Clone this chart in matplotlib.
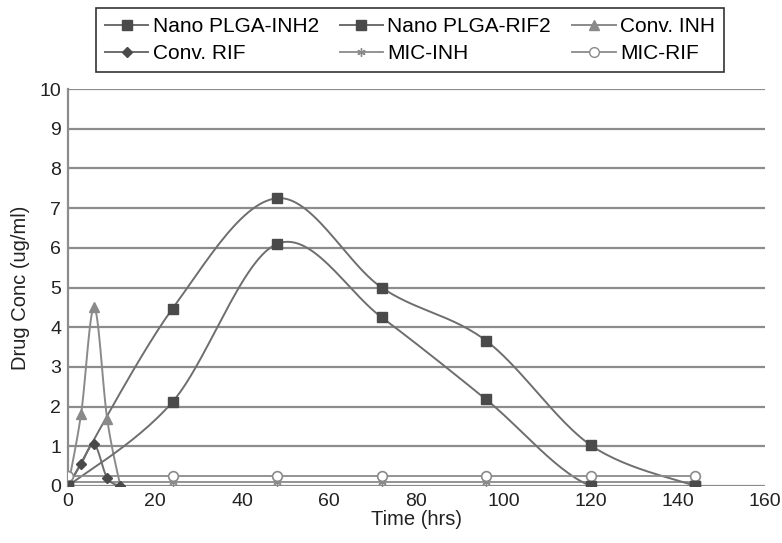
import numpy as np
import matplotlib
matplotlib.use("Agg")
import matplotlib.pyplot as plt
from matplotlib.lines import Line2D

plt.rcParams['font.family'] = ['Liberation Sans', 'DejaVu Sans']

# data
t_nano = [0, 24, 48, 72, 96, 120, 144]
nano_inh2 = [0, 4.47, 7.25, 5.0, 3.66, 1.03, 0]
nano_rif2 = [0, 2.12, 6.1, 4.25, 2.18, 0, 0]

t_conv = [0, 3, 6, 9, 12]
conv_inh = [0, 1.82, 4.5, 1.68, 0]
conv_rif = [0, 0.55, 1.05, 0.2, 0]

t_mic = [0, 24, 48, 72, 96, 120, 144]
mic_inh = [0.1] * 7
mic_rif = [0.25] * 7

labels = ['Nano PLGA-INH2', 'Nano PLGA-RIF2', 'Conv. INH',
          'Conv. RIF', 'MIC-INH', 'MIC-RIF']

# pixels per data unit, so the smoothing is done in screen space (like Excel)
SX, SY = 4.356, 39.7


def smooth(x, y, n=30):
    p = np.column_stack([np.asarray(x, float) * SX, np.asarray(y, float) * SY])
    p = np.vstack([p[0], p, p[-1]])
    out = []
    for i in range(1, len(p) - 2):
        p0, p1, p2, p3 = p[i - 1], p[i], p[i + 1], p[i + 2]
        c1 = p1 + (p2 - p0) / 6
        c2 = p2 - (p3 - p1) / 6
        s = np.linspace(0, 1, n)[:, None]
        seg = ((1 - s) ** 3) * p1 + 3 * ((1 - s) ** 2) * s * c1 + 3 * (1 - s) * s ** 2 * c2 + s ** 3 * p2
        out.append(seg)
    out = np.vstack(out)
    return out[:, 0] / SX, out[:, 1] / SY


fig = plt.figure(figsize=(7.82, 5.43), dpi=100)
ax = fig.add_axes([0.087, 0.105, 0.891, 0.731])

dark = '#4a4a4a'
line_c = '#6e6e6e'
light = '#8a8a8a'

for yy in range(0, 11):
    ax.axhline(yy, color='#8c8c8c', lw=1.6, zorder=1)

# MIC lines
ax.plot(t_mic, mic_inh, color=light, lw=1.3, marker=(6, 2, 0), ms=6, mec=light, zorder=2)
ax.plot(t_mic, mic_rif, color=light, lw=1.3, marker='o', ms=7, mfc='white', mec=light, mew=1.2, zorder=3)

# conventional
xs, ys = smooth(t_conv, conv_inh)
ax.plot(xs, ys, color=light, lw=1.4, zorder=2)
ax.plot(t_conv, conv_inh, ls='none', marker='^', ms=7, color=light, zorder=3)
xs, ys = smooth(t_conv, conv_rif)
ax.plot(xs, ys, color=line_c, lw=1.4, zorder=2)
ax.plot(t_conv, conv_rif, ls='none', marker='D', ms=5, color=dark, zorder=3)

# nano
for yv in (nano_inh2, nano_rif2):
    xs, ys = smooth(t_nano, yv)
    ax.plot(xs, ys, color=line_c, lw=1.4, zorder=2)
    ax.plot(t_nano, yv, ls='none', marker='s', ms=7.5, color=dark, zorder=4)

ax.set_xlim(0, 160)
ax.set_ylim(0, 10)
ax.set_xticks(range(0, 161, 20))
ax.set_yticks(range(0, 11))
for s in ['top', 'right', 'bottom']:
    ax.spines[s].set_visible(False)
ax.spines['left'].set_color('#8c8c8c')
ax.spines['left'].set_linewidth(1.6)
ax.tick_params(length=0, labelsize=14, colors='#222222', pad=5)
ax.set_xlabel('Time (hrs)', fontsize=14.5, color='#222222', labelpad=0)
ax.set_ylabel('Drug Conc (ug/ml)', fontsize=14.5, color='#222222', labelpad=7)

# legend, row-major like the original
h = [
    Line2D([], [], color=line_c, lw=1.4, marker='s', ms=7, mfc=dark, mec=dark),
    Line2D([], [], color=line_c, lw=1.4, marker='s', ms=7, mfc=dark, mec=dark),
    Line2D([], [], color=light, lw=1.4, marker='^', ms=7, mfc=light, mec=light),
    Line2D([], [], color=line_c, lw=1.4, marker='D', ms=5, mfc=dark, mec=dark),
    Line2D([], [], color=light, lw=1.3, marker=(6, 2, 0), ms=6, mec=light),
    Line2D([], [], color=light, lw=1.3, marker='o', ms=7, mfc='white', mec=light),
]
order = [0, 3, 1, 4, 2, 5]
leg = fig.legend([h[i] for i in order], [labels[i] for i in order], ncol=3,
                 loc='center', bbox_to_anchor=(0.524, 0.926), frameon=True,
                 fancybox=False, edgecolor='black', fontsize=15,
                 handlelength=2.1, handletextpad=0.2, columnspacing=1.0,
                 labelspacing=0.4, borderpad=0.42)
leg.get_frame().set_linewidth(1.2)

fig.savefig('out.png', dpi=100)
